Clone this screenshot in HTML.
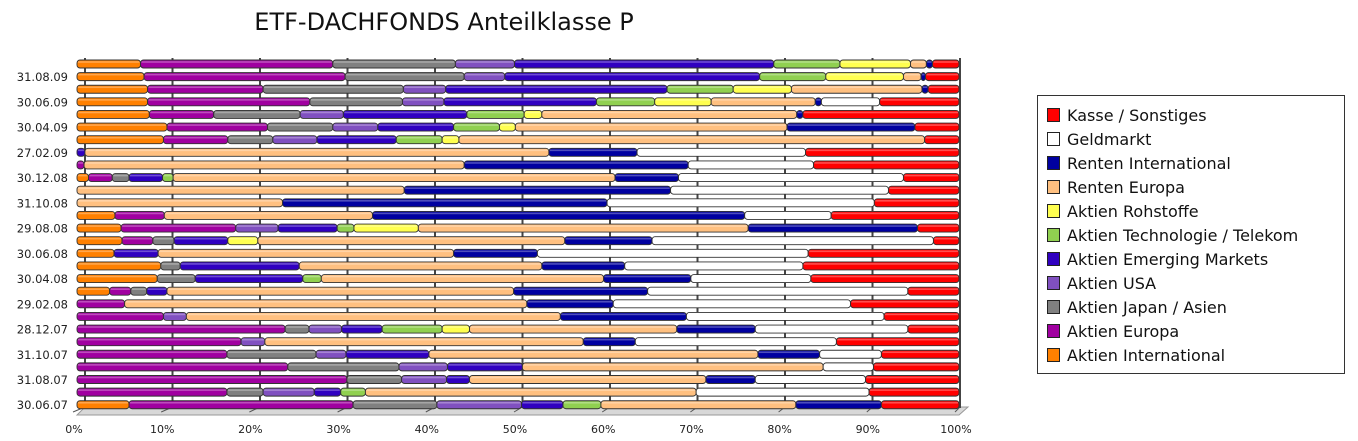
<!DOCTYPE html>
<html><head><meta charset="utf-8"><style>
body{margin:0;background:#fff;width:1358px;height:441px;overflow:hidden}
svg{display:block;font-family:"DejaVu Sans","Liberation Sans",sans-serif}
</style></head><body>
<svg id="chart" width="1358" height="441" viewBox="0 0 1358 441">
<text x="444" y="30" text-anchor="middle" font-size="24" fill="#111">ETF-DACHFONDS Anteilklasse P</text>
<g id="floor"></g>
<g id="grid"></g>
<g id="bars"></g>
<g id="ylabels"></g>
<g id="xlabels"></g>
<g id="legend"></g>
</svg>
<script>
const dates=["30.09.09","31.08.09","31.07.09","30.06.09","29.05.09","30.04.09","31.03.09","27.02.09","30.01.09","30.12.08","28.11.08","31.10.08","30.09.08","29.08.08","31.07.08","30.06.08","30.05.08","30.04.08","31.03.08","29.02.08","31.01.08","28.12.07","30.11.07","31.10.07","28.09.07","31.08.07","31.07.07","30.06.07"];
const seriesNames=["Aktien International","Aktien Europa","Aktien Japan / Asien","Aktien USA","Aktien Emerging Markets","Aktien Technologie / Telekom","Aktien Rohstoffe","Renten Europa","Renten International","Geldmarkt","Kasse / Sonstiges"];
const aktienInternational=[7.2,7.6,8.0,8.0,8.2,10.2,9.8,0,0,1.3,0,0,4.3,5.0,5.1,4.2,9.5,9.1,3.7,0,0,0,0,0,0,0,0,5.9];
const aktienEuropa=[21.8,22.8,13.1,18.4,7.3,11.4,7.3,0,0.8,2.7,0,0,5.6,13.0,3.5,0,0,0,2.4,5.4,9.8,23.6,18.6,17.0,23.9,30.6,17.0,25.4];
const aktienJapan=[13.9,13.5,15.9,10.5,9.8,7.4,5.1,0,0,1.9,0,0,0,0,2.4,0,2.2,4.3,1.8,0,0,2.7,0,10.1,12.6,6.2,4.1,9.5];
const aktienUSA=[6.7,4.6,4.8,4.7,4.9,5.1,5.0,0,0,0,0,0,0,4.8,0,0,0,0,0,0,2.6,3.7,2.7,3.4,5.5,5.1,5.8,9.6];
const aktienEM=[29.4,28.9,25.1,17.3,14.0,8.6,9.0,0.9,0,3.8,0,0,0,6.7,6.1,5.0,13.5,12.2,2.3,0,0,4.6,0,9.4,8.5,2.6,3.0,4.7];
const aktienTech=[7.5,7.5,7.5,6.6,6.5,5.2,5.2,0,0,1.2,0,0,0,1.9,0,0,0,2.1,0,0,0,6.8,0,0,0,0,2.8,4.3];
const aktienRohstoffe=[8.0,8.8,6.6,6.4,2.0,1.8,1.9,0,0,0,0,0,0,7.3,3.4,0,0,0,0,0,0,3.1,0,0,0,0,0,0];
const rentenEuropa=[1.8,2.0,14.8,11.8,28.9,30.8,52.8,52.6,43.1,50.1,37.1,23.3,23.6,37.4,34.8,33.5,27.5,32.0,39.3,45.6,42.4,23.5,36.1,37.3,34.1,26.8,37.5,22.1];
const rentenInternational=[0.7,0.5,0.7,0.7,0.7,14.5,0,10.0,25.4,7.2,30.2,36.8,42.2,19.2,9.9,9.5,9.4,9.9,15.2,9.8,14.3,8.9,5.9,7.0,0,5.6,0,9.7];
const geldmarkt=[0,0,0,6.6,0,0,0,19.1,14.2,25.5,24.7,30.3,9.8,0,31.9,30.7,20.2,13.6,29.5,26.9,22.4,17.3,22.8,7.0,5.7,12.5,19.6,0];
const kasse=[3.0,3.8,3.5,9.0,17.7,5.0,3.9,17.4,16.5,6.3,8.0,9.6,14.5,4.7,2.9,17.1,17.7,16.8,5.8,12.3,8.5,5.8,13.9,8.8,9.7,10.6,10.2,8.8];
const xTicks=["0%","10%","20%","30%","40%","50%","60%","70%","80%","90%","100%"];

const series=[aktienInternational,aktienEuropa,aktienJapan,aktienUSA,aktienEM,aktienTech,aktienRohstoffe,rentenEuropa,rentenInternational,geldmarkt,kasse];
const colors=["#FF8000","#A000A0","#808080","#8050C0","#3000C0","#90D050","#FFFF50","#FFC080","#0000A0","#FFFFFF","#FF0000"];
const NS="http://www.w3.org/2000/svg";
function el(t,a,p){const e=document.createElementNS(NS,t);for(const k in a)e.setAttribute(k,a[k]);p.appendChild(e);return e;}
const X0=77,XW=882,Y0=64,DY=12.62,BH=8;
const xs=v=>X0+v/100*XW;
const ys=i=>Y0+i*DY;
const gx=v=>85+v/100*875;

const floor=document.getElementById('floor');
let fl=el('polygon',{points:"77,415 959,415 968,407 85,407",fill:"#d8d8d8",stroke:"#999","stroke-width":"1"},floor);


const grid=document.getElementById('grid');
const xl=document.getElementById('xlabels');
xTicks.forEach((t,k)=>{
  const v=k*10;
  const g=el('line',{x1:gx(v),x2:gx(v),y1:58,y2:408,stroke:"#444","stroke-width":"2"},grid);
  
  
  const s=el('line',{x1:gx(v),y1:407,x2:xs(v)-4,y2:412,stroke:"#555","stroke-width":"1"},floor);
  
  
  const tx=el('text',{x:xs(v)-3,y:433,"text-anchor":"middle","font-size":"11",fill:"#222"},xl);
  tx.textContent=t;
  
  
});
const bars=document.getElementById('bars');
const yl=document.getElementById('ylabels');
dates.forEach((d,i)=>{
  let c=0;const yc=ys(i);
  series.forEach((s,j)=>{
    const v=s[i];if(v<=0){return;}
    const r=el('rect',{x:xs(c),y:yc-BH/2,width:Math.max(xs(c+v)-xs(c),0.5),height:BH,rx:3,fill:colors[j],stroke:"#333","stroke-width":"0.9"},bars);
    
    
    const h=el('rect',{x:xs(c)+1,y:yc-BH/2+1.2,width:Math.max(xs(c+v)-xs(c)-2,0),height:1.6,fill:"#fff",opacity:"0.3"},bars);
    
    
    c+=v;
  });
  if(i%2===1){
    const t=el('text',{x:68,y:yc+4.5,"text-anchor":"end","font-size":"11.5",fill:"#222"},yl);
    t.textContent=d;
    
    
  }
});
const lg=document.getElementById('legend');
const box=el('rect',{x:1037.5,y:95.5,width:307,height:278,fill:"#fff",stroke:"#333","stroke-width":"1"},lg);


for(let k=0;k<11;k++){
  const j=10-k;const y=115+k*24;
  const sq=el('rect',{x:1047.5,y:y-6.5,width:12,height:13,fill:colors[j],stroke:"#222","stroke-width":"1"},lg);
  
  
  const t=el('text',{x:1067,y:y+6,"font-size":"16",fill:"#111"},lg);
  t.textContent=seriesNames[j];
  
  
}
</script>
</body></html>
